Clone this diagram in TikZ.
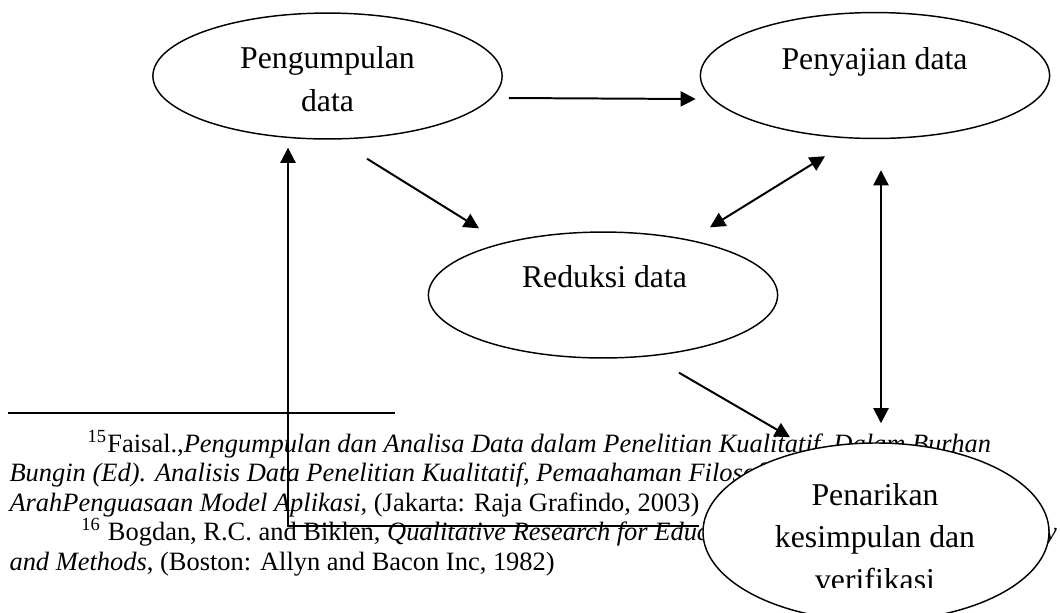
\documentclass[tikz,border=0pt]{standalone}
\usepackage{fontspec}
\setmainfont{Liberation Serif}
\usetikzlibrary{shapes.geometric,arrows.meta}
\tikzset{
  stage/.style={ellipse, draw, fill=white, line width=0.55pt, inner sep=0pt, minimum width=132pt, minimum height=47.6pt},
  stagetext/.style={font=\fontsize{12}{16}\selectfont, align=center, inner sep=0pt, anchor=base},
  fnote/.style={font=\fontsize{10}{11.15}\selectfont, align=left, inner sep=0pt, anchor=base west},
  flow/.style={line width=0.75pt, -{Triangle[length=5.7pt,width=5.7pt]}},
  flowboth/.style={line width=0.75pt, {Triangle[length=5.7pt,width=5.7pt]}-{Triangle[length=5.7pt,width=5.7pt]}}
}
\begin{document}
\begin{tikzpicture}[x=0.378pt, y=-0.378pt]
    \useasboundingbox (0,0) rectangle (1060,612);
    % footnotes below the rule (base = last line)
    \node[fnote] (fn15) at (9,511) {\hspace*{29.5pt}\textsuperscript{15}Faisal.,\textit{Pengumpulan dan Analisa Data dalam Penelitian Kualitatif, Dalam Burhan}\\\textit{Bungin (Ed). Analisis Data Penelitian Kualitatif, Pemaahaman Filosofis}\\\textit{ArahPenguasaan Model Aplikasi}, (Jakarta: Raja Grafindo, 2003)};
    \node[fnote] (fn16) at (9,570) {\hspace*{27.2pt}\textsuperscript{16} Bogdan, R.C. and Biklen, \textit{Qualitative Research for Education: An Introduction to Theory}\\\textit{and Methods}, (Boston: Allyn and Bacon Inc, 1982)};
    \draw[line width=0.75pt] (8,413) -- (395,413);
    % the four stages
    \node[stage] (kumpul) at (327.5,76) {};
    \node[stage] (saji) at (875,75.5) {};
    \node[stage] (reduksi) at (603,295) {};
    \node[stage, minimum width=130.8pt, minimum height=67.3pt] (tarik) at (876,532) {};
    \node[stagetext] (kumpul-t) at (327.5,111) {Pengumpulan\\data};
    \node[stagetext] (saji-t) at (874.5,69) {Penyajian data};
    \node[stagetext] (reduksi-t) at (604.5,287) {Reduksi data};
    \begin{scope}
      \clip (700,440) rectangle (1060,587);
      \node[stagetext] (tarik-t) at (875,590) {Penarikan\\kesimpulan dan\\verifikasi};
    \end{scope}
    % arrows
    \draw[flow] ([shift={(6,22)}]kumpul.east) -- ([shift={(-4,23.5)}]saji.west);
    \draw[flow] ([shift={(39.5,19)}]kumpul.south) -- ([shift={(-124,-3)}]reduksi.north);
    \draw[flowboth] ([shift={(-50,17)}]saji.south) -- ([shift={(107,-4)}]reduksi.north);
    \draw[flowboth] ([shift={(6,31)}]saji.south) -- ([shift={(5,-19)}]tarik.north);
    \draw[flow] ([shift={(76,14)}]reduksi.south) -- ([shift={(-86,-5)}]tarik.north);
    \draw[flow] ([shift={(-3,-6)}]tarik.west) -| ([shift={(-39.5,8)}]kumpul.south);
\end{tikzpicture}
\end{document}
